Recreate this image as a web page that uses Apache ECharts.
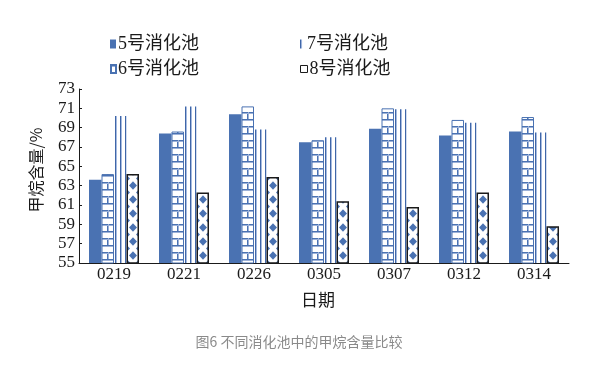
<!DOCTYPE html>
<html><head><meta charset="utf-8">
<script src="https://cdn.jsdelivr.net/npm/echarts@6/dist/echarts.min.js"></script>
<style>html,body{margin:0;padding:0;background:#fff}#c{width:598px;height:368px}</style>
</head><body><div id="c"></div>
<script>
const categories = ['0219','0221','0226','0305','0307','0312','0314'];
const names = ['5号消化池','6号消化池','7号消化池','8号消化池'];
const pool5 = [63.6, 68.4, 70.4, 67.5, 68.9, 68.2, 68.6];
const pool6 = [64.2, 68.6, 71.2, 67.7, 71.0, 69.8, 70.1];
const pool7 = [70.2, 71.2, 68.8, 68.0, 70.9, 69.5, 68.5];
const pool8 = [64.2, 62.3, 63.9, 61.4, 60.8, 62.3, 58.8];
const yTicks = {min: 55, max: 73, interval: 2};
const xTitle = '日期';
const yTitle = '甲烷含量/%';
const caption = '图6 不同消化池中的甲烷含量比较';

const BLUE = '#4a72b2';
function tile(w, h, draw) {
  const c = document.createElement('canvas'); c.width = w; c.height = h;
  const g = c.getContext('2d'); g.fillStyle = '#fff'; g.fillRect(0, 0, w, h);
  draw(g); return {image: c, repeat: 'repeat'};
}
const brick = tile(14, 14, g => {
  g.fillStyle = BLUE;
  g.fillRect(0, 0, 14, 1); g.fillRect(0, 7, 14, 1);
  g.fillRect(9, 0, 1, 7); g.fillRect(2, 7, 1, 7);
  g.fillStyle = '#9db2d8';
  g.fillRect(0, 1, 14, 1); g.fillRect(0, 8, 14, 1);
  g.fillRect(10, 0, 1, 7); g.fillRect(3, 7, 1, 7);
});
const vlines = tile(5, 4, g => {
  g.fillStyle = '#3f66a8'; g.fillRect(0, 0, 1, 4);
  g.fillStyle = '#a6bbe0'; g.fillRect(1, 0, 1, 4);
});
const diamonds = tile(14, 14, g => {
  g.fillStyle = BLUE;
  const dm = (cx, cy) => { g.beginPath(); g.moveTo(cx, cy - 4.2); g.lineTo(cx + 4, cy); g.lineTo(cx, cy + 4.2); g.lineTo(cx - 4, cy); g.closePath(); g.fill(); };
  dm(7, 3.5); dm(0, 10.5); dm(14, 10.5); dm(7, 17.5); dm(0, -3.5); dm(14, -3.5);
});

const serifCJK = '"Liberation Serif","Times New Roman","Noto Sans CJK SC",serif';
const chart = echarts.init(document.getElementById('c'), null, {renderer: 'canvas'});
function leg(name, left, top, w, h, style) {
  return {data: [{name, itemStyle: style}], left, top, orient: 'horizontal', padding: 0,
    itemWidth: w, itemHeight: h, itemGap: 0, icon: 'rect', selectedMode: false,
    textStyle: {fontSize: 18, fontFamily: serifCJK, color: '#1a1a1a', padding: [0, 0, 0, -3]}};
}
chart.setOption({
  animation: false,
  title: {text: caption, left: 'center', top: 330, textStyle: {fontSize: 14, fontWeight: 'normal', color: '#8a8a8a', fontFamily: '"Noto Sans CJK SC",sans-serif'}},
  legend: [
    leg(names[0], 110, 35, 6, 9, {color: BLUE}),
    leg(names[2], 300, 35, 5, 9, {color: vlines}),
    leg(names[1], 110, 60, 5, 8, {color: brick}),
    leg(names[3], 300, 60, 7, 7, {color: '#fff', borderColor: '#1a1a1a', borderWidth: 1})
  ],
  grid: {left: 79, right: 29, top: 89, bottom: 105},
  xAxis: {
    type: 'category', data: categories,
    name: xTitle, nameLocation: 'middle', nameGap: 28,
    nameTextStyle: {fontSize: 17, color: '#1a1a1a', fontFamily: '"Noto Sans CJK SC",sans-serif', padding: [0, 12, 0, 0]},
    axisLine: {lineStyle: {color: '#1a1a1a', width: 1}},
    axisTick: {inside: true, length: 4, lineStyle: {color: '#1a1a1a'}},
    axisLabel: {fontSize: 17, color: '#1a1a1a', fontFamily: serifCJK, margin: 3}
  },
  yAxis: {
    type: 'value', min: yTicks.min, max: yTicks.max, interval: yTicks.interval,
    name: yTitle, nameLocation: 'middle', nameGap: 35,
    nameTextStyle: {fontSize: 16, color: '#1a1a1a', fontFamily: '"Noto Sans CJK SC",sans-serif', padding: [0, 0, 0, 12]},
    axisLine: {show: true, lineStyle: {color: '#1a1a1a', width: 1}},
    axisTick: {show: true, inside: true, length: 3, lineStyle: {color: '#1a1a1a'}},
    splitLine: {show: false},
    axisLabel: {fontSize: 17, color: '#1a1a1a', fontFamily: serifCJK, margin: 4}
  },
  series: [
    {name: names[0], type: 'bar', data: pool5, barWidth: 12.5, barGap: '0%', itemStyle: {color: BLUE}},
    {name: names[1], type: 'bar', data: pool6, barWidth: 12.5, barGap: '0%', itemStyle: {color: brick, borderColor: BLUE, borderWidth: 1}},
    {name: names[2], type: 'bar', data: pool7, barWidth: 12.5, barGap: '0%', itemStyle: {color: vlines}},
    {name: names[3], type: 'bar', data: pool8, barWidth: 12.5, barGap: '0%', itemStyle: {color: diamonds, borderColor: '#1a1a1a', borderWidth: 1.5}}
  ]
});
</script></body></html>
